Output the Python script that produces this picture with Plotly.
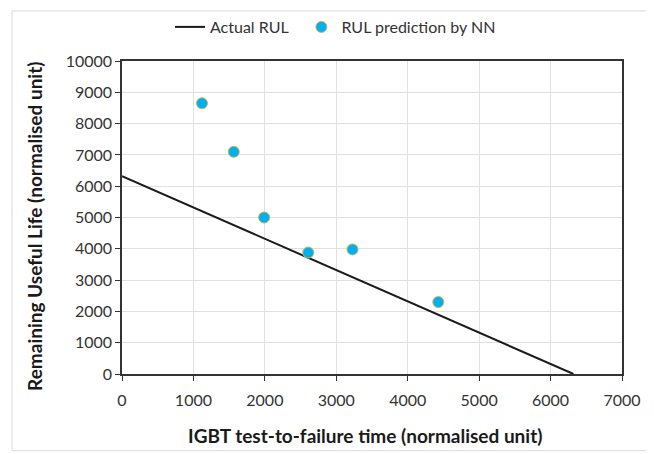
import plotly.graph_objects as go

# Data
actual_x = [0, 6320]
actual_y = [6320, 0]
pred_x = [1120, 1565, 1990, 2608, 3227, 4428]
pred_y = [8650, 7100, 5000, 3880, 3980, 2300]
x_ticks = [0, 1000, 2000, 3000, 4000, 5000, 6000, 7000]
y_ticks = [0, 1000, 2000, 3000, 4000, 5000, 6000, 7000, 8000, 9000, 10000]

FONT = "Lato"

fig = go.Figure()
fig.add_trace(go.Scatter(
    x=actual_x, y=actual_y, mode="lines", name="Actual RUL\u00a0\u00a0",
    line=dict(color="#1a1a1a", width=2),
))
fig.add_trace(go.Scatter(
    x=pred_x, y=pred_y, mode="markers", name="RUL prediction by NN",
    marker=dict(color="#00B0F0", size=11, line=dict(color="#C9B64A", width=1)),
))

# page body has an 8px margin, so the figure is sized/offset to compensate
fig.update_layout(
    width=646, height=446,
    margin=dict(l=114, r=32, t=53, b=80, autoexpand=False),
    paper_bgcolor="white", plot_bgcolor="white",
    font=dict(family=FONT, size=15, color="#333333"),
    showlegend=True,
    legend=dict(orientation="h", x=0.427, xanchor="center",
                yref="container", y=1 - 19 / 446, yanchor="middle",
                font=dict(size=16, color="#333333"),
                bgcolor="rgba(0,0,0,0)"),
    xaxis=dict(
        range=[0, 7000], tickvals=x_ticks, ticktext=[str(v) for v in x_ticks],
        showgrid=True, gridcolor="#E0E0E0", gridwidth=1,
        showline=True, linecolor="#333333", linewidth=1.5, mirror=True,
        ticks="outside", ticklen=5, tickcolor="#333333",
        zeroline=False, automargin=False, ticklabelstandoff=6,
        tickfont=dict(size=16, color="#333333"),
    ),
    yaxis=dict(
        range=[0, 10000], tickvals=y_ticks, ticktext=[str(v) for v in y_ticks],
        showgrid=True, gridcolor="#E0E0E0", gridwidth=1,
        showline=True, linecolor="#333333", linewidth=1.5, mirror=True,
        ticks="outside", ticklen=5, tickcolor="#333333",
        zeroline=False, automargin=False,
        tickfont=dict(size=16, color="#333333"),
    ),
    annotations=[
        dict(text="<b>IGBT test-to-failure time (normalised unit)</b>",
             xref="paper", yref="paper", x=0.485, y=-0.195,
             xanchor="center", yanchor="middle", showarrow=False,
             font=dict(size=19, color="#1a1a1a")),
        dict(text="<b>Remaining Useful Life (normalised unit)</b>",
             xref="paper", yref="paper", x=-0.174, y=0.47, textangle=-90,
             xanchor="center", yanchor="middle", showarrow=False,
             font=dict(size=19, color="#1a1a1a")),
    ],
    shapes=[dict(type="rect", xref="paper", yref="paper",
                 x0=-0.22, x1=1.052, y0=-0.245, y1=1.16,
                 line=dict(color="#D9D9D9", width=1), layer="below")],
)

fig.write_html("out.html")
